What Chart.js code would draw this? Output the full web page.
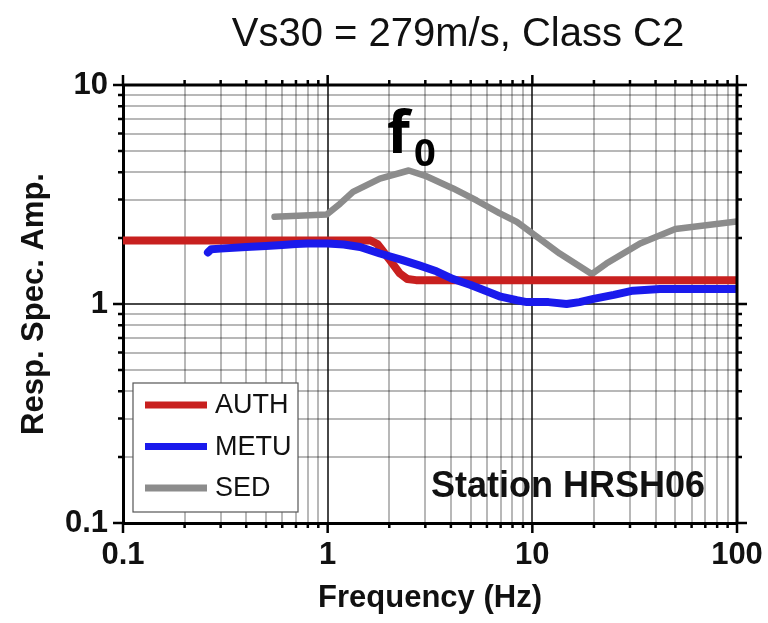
<!DOCTYPE html>
<html>
<head>
<meta charset="utf-8">
<title>Vs30 = 279m/s, Class C2</title>
<script src="https://cdn.jsdelivr.net/npm/chart.js@4.4.1/dist/chart.umd.min.js"></script>
<style>
  html, body { margin: 0; padding: 0; background: #fff; }
  #wrap { width: 768px; height: 623px; }
</style>
</head>
<body>
<div id="wrap"><canvas id="spec"></canvas></div>
<script>
/* Response spectral amplification, station HRSH06 */
const seriesNames = ['AUTH', 'METU', 'SED'];
const seriesColors = ['#c8201f', '#1a1aec', '#8c8c8c'];

const authFreq = [0.1, 1.62, 1.75, 2.0, 2.25, 2.45, 2.7, 100];
const authAmp  = [1.95, 1.95, 1.88, 1.6, 1.38, 1.3, 1.285, 1.285];

const metuFreq = [0.26, 0.27, 0.3, 0.4, 0.5, 0.6, 0.7, 0.8, 1.0, 1.2, 1.44, 1.8, 2.3, 2.8, 3.4,
                  4.1, 5.0, 5.9, 7.0, 8.4, 9.4, 12, 14.7, 17, 19.9, 25, 31, 42, 60, 100];
const metuAmp  = [1.72, 1.78, 1.79, 1.82, 1.84, 1.86, 1.88, 1.89, 1.89, 1.87, 1.82, 1.7, 1.59, 1.5, 1.41,
                  1.3, 1.22, 1.15, 1.08, 1.04, 1.02, 1.02, 1.0, 1.02, 1.055, 1.1, 1.15, 1.17, 1.17, 1.17];

const sedFreq = [0.55, 0.99, 1.15, 1.33, 1.8, 2.49, 3.0, 4.1, 5.34, 6.9, 8.4, 13.6, 19.5, 23, 33.6, 50, 100];
const sedAmp  = [2.5, 2.56, 2.87, 3.25, 3.74, 4.07, 3.85, 3.37, 2.97, 2.6, 2.37, 1.7, 1.37, 1.53, 1.89, 2.2, 2.38];

const xTickLabels = ['0.1', '1', '10', '100'];
const yTickLabels = ['0.1', '1', '10'];
const xDecades = [0.1, 1, 10, 100];
const yDecades = [0.1, 1, 10];

// 1..9 steps inside every decade, used for grid lines and tick marks
function logSteps(decades) {
    const out = [];
    for (let i = 0; i < decades.length - 1; i++) {
        for (let m = 1; m < 10; m++) out.push(Number((decades[i] * m).toPrecision(3)));
    }
    out.push(decades[decades.length - 1]);
    return out;
}
const xSteps = logSteps(xDecades);
const ySteps = logSteps(yDecades);

function isDecade(v) {
    const l = Math.log10(v);
    return Math.abs(l - Math.round(l)) < 1e-6;
}

const toPoints = (xs, ys) => xs.map((x, i) => ({ x: x, y: ys[i] }));
const seriesData = [toPoints(authFreq, authAmp), toPoints(metuFreq, metuAmp), toPoints(sedFreq, sedAmp)];
const drawOrder = [1, 0, 2];
const lineWidths = [8, 8, 6.5];

const FONT = '"Liberation Sans", Arial, Helvetica, sans-serif';
Chart.defaults.font.family = FONT;
Chart.defaults.color = '#111';

const minorGrid = 'rgba(0,0,0,0.28)';
const majorGrid = 'rgba(0,0,0,0.72)';

/* frame, tick marks, legend and text labels */
const decor = {
    id: 'decor',
    afterDatasetsDraw(chart) {
        const ctx = chart.ctx;
        const a = chart.chartArea;
        const xs = chart.scales.x, ys = chart.scales.y;
        ctx.save();

        // top / right frame lines
        ctx.strokeStyle = '#000';
        ctx.lineWidth = 3;
        ctx.beginPath();
        ctx.moveTo(a.left, a.top); ctx.lineTo(a.right, a.top); ctx.lineTo(a.right, a.bottom);
        ctx.stroke();

        // outward tick marks on all four sides
        ctx.lineWidth = 2.5;
        ctx.beginPath();
        xSteps.forEach(v => {
            const p = xs.getPixelForValue(v);
            const len = isDecade(v) ? 10 : 5;
            ctx.moveTo(p, a.bottom); ctx.lineTo(p, a.bottom + len);
            ctx.moveTo(p, a.top); ctx.lineTo(p, a.top - len);
        });
        ySteps.forEach(v => {
            const p = ys.getPixelForValue(v);
            const len = isDecade(v) ? 10 : 5;
            ctx.moveTo(a.left - len, p); ctx.lineTo(a.left, p);
            ctx.moveTo(a.right, p); ctx.lineTo(a.right + len, p);
        });
        ctx.stroke();

        // legend box
        const bx = a.left + 10, by = a.bottom - 140, bw = 165, bh = 129;
        ctx.fillStyle = '#fff';
        ctx.fillRect(bx, by, bw, bh);
        ctx.strokeStyle = '#555';
        ctx.lineWidth = 1.2;
        ctx.strokeRect(bx, by, bw, bh);
        ctx.font = '27px ' + FONT;
        ctx.textBaseline = 'middle';
        ctx.textAlign = 'left';
        chart.data.datasets.forEach((ds, i) => {
            const ly = by + 22 + i * 41.5;
            ctx.strokeStyle = ds.borderColor;
            ctx.lineWidth = 7;
            ctx.lineCap = 'butt';
            ctx.beginPath();
            ctx.moveTo(bx + 12, ly); ctx.lineTo(bx + 74, ly);
            ctx.stroke();
            ctx.fillStyle = '#111';
            ctx.fillText(ds.label, bx + 82, ly + 1);
        });

        // station name
        ctx.fillStyle = '#111';
        ctx.font = 'bold 36px ' + FONT;
        ctx.textAlign = 'right';
        ctx.textBaseline = 'alphabetic';
        ctx.fillText('Station HRSH06', a.right - 32, a.bottom - 26);

        // f0 marker above the SED peak
        ctx.fillStyle = '#000';
        ctx.textAlign = 'left';
        ctx.font = 'bold 59px "Open Sans", "DejaVu Sans", sans-serif';
        ctx.fillText('f', 387, 153);
        ctx.font = 'bold 38px "Open Sans", "DejaVu Sans", sans-serif';
        ctx.fillText('0', 414, 166);

        // chart title
        ctx.font = '40px ' + FONT;
        ctx.textAlign = 'center';
        ctx.fillStyle = '#111';
        ctx.fillText('Vs30 = 279m/s, Class C2', 458, 46);
        ctx.restore();
    }
};

new Chart(document.getElementById('spec'), {
    type: 'line',
    data: {
        datasets: seriesNames.map((name, i) => ({
            label: name,
            data: seriesData[i],
            borderColor: seriesColors[i],
            backgroundColor: seriesColors[i],
            borderWidth: lineWidths[i],
            borderCapStyle: 'round',
            borderJoinStyle: 'round',
            pointRadius: 0,
            tension: 0,
            fill: false,
            order: drawOrder[i]
        }))
    },
    options: {
        responsive: true,
        maintainAspectRatio: false,
        animation: false,
        layout: { padding: { top: 85, right: 31, left: 0, bottom: 0 } },
        plugins: { legend: { display: false }, tooltip: { enabled: false } },
        scales: {
            x: {
                type: 'logarithmic',
                min: 0.1,
                max: 100,
                afterBuildTicks: s => { s.ticks = xSteps.map(v => ({ value: v })); },
                afterFit: s => { s.height = 100; s.paddingLeft = 0; s.paddingRight = 0; },
                grid: {
                    color: c => (c.tick && isDecade(c.tick.value)) ? majorGrid : minorGrid,
                    lineWidth: 2,
                    drawTicks: false
                },
                border: { color: '#000', width: 3 },
                ticks: {
                    autoSkip: false,
                    maxRotation: 0,
                    padding: 14,
                    font: { size: 31, weight: 'bold' },
                    color: '#111',
                    callback: v => isDecade(v) ? xTickLabels[Math.round(Math.log10(v)) + 1] : ''
                },
                title: {
                    display: true,
                    text: 'Frequency (Hz)',
                    font: { size: 31, weight: 'bold' },
                    color: '#111',
                    padding: { top: 0, bottom: 6 }
                }
            },
            y: {
                type: 'logarithmic',
                min: 0.1,
                max: 10,
                afterBuildTicks: s => { s.ticks = ySteps.map(v => ({ value: v })); },
                afterFit: s => { s.width = 123; s.paddingTop = 0; s.paddingBottom = 0; },
                grid: {
                    color: c => (c.tick && isDecade(c.tick.value)) ? majorGrid : minorGrid,
                    lineWidth: 2,
                    drawTicks: false
                },
                border: { color: '#000', width: 3 },
                ticks: {
                    autoSkip: false,
                    padding: 15,
                    font: { size: 31, weight: 'bold' },
                    color: '#111',
                    callback: v => isDecade(v) ? yTickLabels[Math.round(Math.log10(v)) + 1] : ''
                },
                title: {
                    display: true,
                    text: 'Resp. Spec. Amp.',
                    font: { size: 31, weight: 'bold' },
                    color: '#111',
                    padding: { top: 16, bottom: 0 }
                }
            }
        }
    },
    plugins: [decor]
});
</script>
</body>
</html>
